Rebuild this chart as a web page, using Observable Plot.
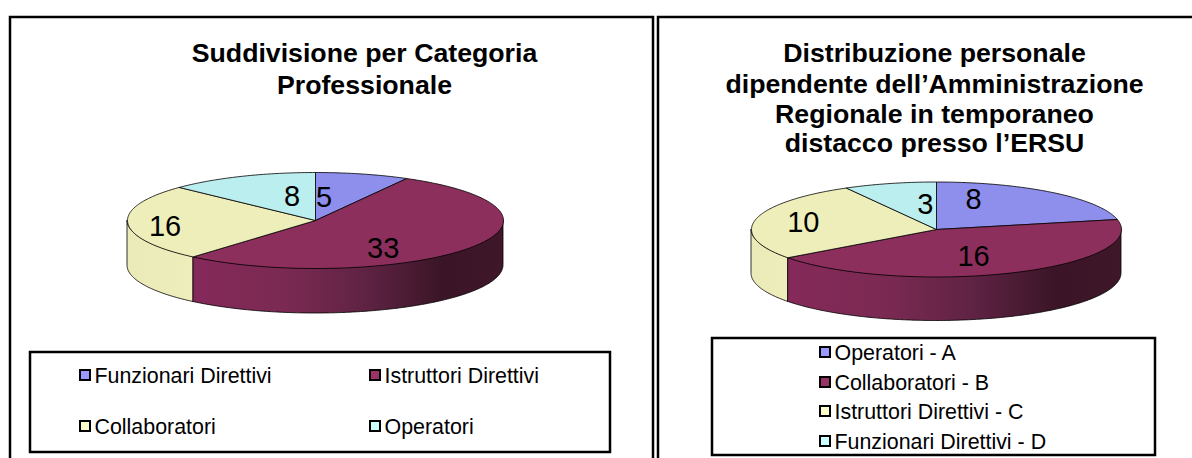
<!DOCTYPE html>
<html><head><meta charset="utf-8">
<script src="https://cdn.jsdelivr.net/npm/d3@7"></script>
<script src="https://cdn.jsdelivr.net/npm/@observablehq/plot@0.6"></script>
<style>html,body{margin:0;padding:0;background:#fff;overflow:hidden}svg{display:block}</style>
</head><body><div id="c"></div>
<script>
// Data
const categoriesA = ["Funzionari Direttivi","Istruttori Direttivi","Collaboratori","Operatori"];
const valuesA = [5,33,16,8];
const titleA = ["Suddivisione per Categoria","Professionale"];
const categoriesB = ["Operatori - A","Collaboratori - B","Istruttori Direttivi - C","Funzionari Direttivi - D"];
const valuesB = [8,16,10,3];
const titleB = ["Distribuzione personale","dipendente dell’Amministrazione","Regionale in temporaneo","distacco presso l’ERSU"];
// Styles
const sliceColors = ["#8E8EEC","#8D2F5C","#EEEEBB","#BBEEEE"];
const swatchColors = ["#9999FF","#993366","#FFFFCC","#CCFFFF"];
const font = "Liberation Sans";
// Layout
const pieA = {cx:315,cy:220,rx:188,ry:48,depth:45,labels:[[.045,-.48],[.36,.58],[-.80,.12],[-.125,-.5]]};
const pieB = {cx:936,cy:229,rx:185,ry:47.5,depth:44,labels:[[.2,-.62],[.2,.57],[-.72,-.15],[-.06,-.53]]};
const panels = [{x1:10,y1:17,x2:653,y2:475},{x1:658,y1:17,x2:1210,y2:475}];
const legendBoxes = [{x1:30,y1:352,x2:610,y2:452},{x1:712,y1:338,x2:1155,y2:455}];

function pt(p,a,dz=0){return {x:p.cx+p.rx*Math.sin(a),y:p.cy-p.ry*Math.cos(a)+dz};}
function arc(p,a0,a1,dz=0){
  const n=Math.max(2,Math.ceil(Math.abs(a1-a0)/0.015)), out=[];
  for(let i=0;i<=n;i++) out.push(pt(p,a0+(a1-a0)*i/n,dz));
  return out;
}
function pieMarks(p,values,prefix){
  const total=d3.sum(values), marks=[];
  const edges=[0,...d3.cumsum(values)].map(v=>v/total*2*Math.PI);
  values.forEach((v,i)=>{
    const a0=Math.max(edges[i],Math.PI/2), a1=Math.min(edges[i+1],Math.PI*1.5);
    if(a1<=a0) return;
    const top=arc(p,a0,a1);
    const rows=top.map(d=>({x:d.x,y1:d.y,y2:d.y+p.depth}));
    marks.push(Plot.areaY(rows,{x:"x",y1:"y1",y2:"y2",fill:`url(#${prefix}${i})`,stroke:"#000",strokeWidth:0.8}));
  });
  values.forEach((v,i)=>{
    const c={x:p.cx,y:p.cy};
    const poly=[c,...arc(p,edges[i],edges[i+1]),c];
    marks.push(Plot.line(poly,{x:"x",y:"y",fill:sliceColors[i],stroke:"#000",strokeWidth:0.8,curve:"linear"}));
  });
  const labels=values.map((v,i)=>({v:String(v),x:p.cx+p.labels[i][0]*p.rx,y:p.cy+p.labels[i][1]*p.ry}));
  marks.push(Plot.text(labels,{x:"x",y:"y",text:"v",fontSize:29,fontFamily:font,fill:"#000"}));
  return marks;
}
function gradientDefs(prefix){
  return ()=>{
    const defs=d3.create("svg:defs");
    const add=(id,stops)=>{
      const g=defs.append("linearGradient").attr("id",id).attr("x1",0).attr("x2",1).attr("y1",0).attr("y2",0);
      stops.forEach(([o,c])=>g.append("stop").attr("offset",o).attr("stop-color",c));
    };
    add(prefix+"0",[[0,"#3a1426"],[1,"#3a1426"]]);
    add(prefix+"1",[[0,"#85295A"],[.3,"#7A2A52"],[.55,"#602344"],[.8,"#3B1527"],[1,"#3E1829"]]);
    add(prefix+"2",[[0,"#EAEAB8"],[1,"#EEEEBC"]]);
    add(prefix+"3",[[0,"#BBEEEE"],[1,"#BBEEEE"]]);
    return defs.node();
  };
}
function textLines(lines,x,ys,opts){
  return Plot.text(lines.map((t,i)=>({t,x:Array.isArray(x)?x[i]:x,y:ys[i]})),{x:"x",y:"y",text:"t",fontFamily:font,fill:"#000",...opts});
}
function legend(labels,xs,ys){
  const rows=labels.map((t,i)=>({t,x:xs[i],y:ys[i],c:swatchColors[i]}));
  const marks=[];
  rows.forEach(r=>{
    marks.push(Plot.rect([r],{x1:d=>d.x,x2:d=>d.x+10,y1:d=>d.y-5,y2:d=>d.y+5,fill:r.c,stroke:"#000",strokeWidth:2}));
  });
  marks.push(Plot.text(rows,{x:d=>d.x+14,y:d=>d.y+0.5,text:"t",textAnchor:"start",fontFamily:font,fontSize:21.4,fill:"#000"}));
  return marks;
}
const boxMark=(rows,sw)=>Plot.rect(rows,{x1:"x1",x2:"x2",y1:"y1",y2:"y2",fill:"#fff",stroke:"#000",strokeWidth:sw});

const chart=Plot.plot({
  width:1192,height:458,margin:0,
  style:{background:"#fff",overflow:"hidden"},
  x:{domain:[0,1192],range:[0,1192],axis:null},
  y:{domain:[0,458],range:[0,458],axis:null},
  marks:[
    gradientDefs("a"),gradientDefs("b"),
    boxMark(panels,2.5),
    textLines(titleA,364,[53,85],{fontSize:26.7,fontWeight:"bold"}),
    textLines(titleB,934,[53,84,114,143],{fontSize:26.7,fontWeight:"bold"}),
    ...pieMarks(pieA,valuesA,"a"),
    ...pieMarks(pieB,valuesB,"b"),
    boxMark(legendBoxes,2.5),
    ...legend(categoriesA,[80,370,80,370],[375,375,426,426]),
    ...legend(categoriesB,[820,820,820,820],[352,382,411,441])
  ]
});
document.getElementById("c").append(chart);
</script></body></html>
